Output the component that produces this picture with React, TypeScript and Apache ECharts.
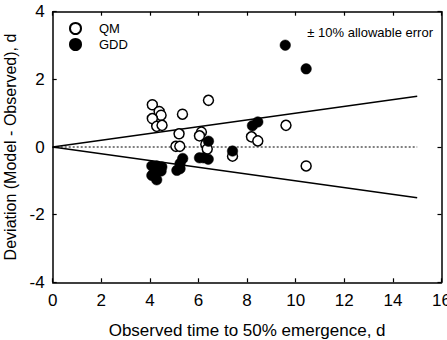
import React, { useEffect, useRef } from "react";
import * as echarts from "echarts";

// Observed time to 50% emergence (d) and model deviation (d)
const qmX = [4.1, 4.38, 4.46, 4.1, 4.28, 4.5, 5.34, 5.2, 5.07, 5.23, 6.41, 6.12, 6.04, 6.3, 6.36, 7.4, 8.18, 8.44, 9.6, 10.43];
const qmY = [1.25, 1.05, 0.94, 0.84, 0.61, 0.64, 0.97, 0.39, 0.02, 0.02, 1.38, 0.44, 0.33, 0.08, -0.06, -0.27, 0.3, 0.18, 0.64, -0.56];
const gddX = [4.08, 4.28, 4.49, 4.46, 4.08, 4.28, 4.2, 5.11, 5.24, 5.24, 5.35, 6.04, 6.21, 6.4, 6.41, 7.4, 8.22, 8.44, 9.57, 10.43];
const gddY = [-0.56, -0.56, -0.59, -0.71, -0.84, -0.97, -0.75, -0.69, -0.64, -0.49, -0.34, -0.32, -0.32, -0.36, 0.17, -0.12, 0.63, 0.74, 3.01, 2.31];

// ±10% allowable error envelope and zero line
const envX = [0, 15];
const upperY = [0, 1.5];
const lowerY = [0, -1.5];
const zeroY = [0, 0];

const FONT = "Liberation Sans, Arial, sans-serif";

export default function App() {
  const ref = useRef<HTMLDivElement>(null);
  useEffect(() => {
    if (!ref.current) return;
    const chart = echarts.init(ref.current, undefined, { renderer: "svg" });
    const zip = (xs: number[], ys: number[]) => xs.map((x, i) => [x, ys[i]]);
    const axisCommon = {
      axisLine: { show: true, onZero: false, lineStyle: { color: "#000", width: 1.5 } },
      axisTick: { show: true, inside: true, length: 4, lineStyle: { color: "#000", width: 1.2 } },
      splitLine: { show: false },
    };
    chart.setOption({
      animation: false,
      textStyle: { fontFamily: FONT },
      grid: { left: 52.7, right: 5.5, top: 11.7, bottom: 57.7, containLabel: false, outerBoundsMode: "none" },
      xAxis: [
        {
          type: "value", min: 0, max: 16, interval: 2, ...axisCommon,
          axisLabel: { color: "#000", fontSize: 17, margin: 10, fontFamily: FONT },
          name: "Observed time to 50% emergence, d", nameLocation: "middle", nameGap: 40,
          nameTextStyle: { color: "#000", fontSize: 17, fontFamily: FONT },
        },
        { type: "value", position: "top", min: 0, max: 16, interval: 2, ...axisCommon, axisLabel: { show: false } },
      ],
      yAxis: [
        {
          type: "value", min: -4, max: 4, interval: 2, ...axisCommon,
          axisLabel: { color: "#000", fontSize: 17, margin: 8, fontFamily: FONT },
          name: "Deviation (Model - Observed), d", nameLocation: "middle", nameGap: 34,
          nameTextStyle: { color: "#000", fontSize: 16, fontFamily: FONT },
        },
        { type: "value", position: "right", min: -4, max: 4, interval: 2, ...axisCommon, axisLabel: { show: false } },
      ],
      legend: {
        orient: "vertical", left: 64, top: 17, itemGap: 3, itemWidth: 11, itemHeight: 11,
        data: [
          { name: "QM", icon: "circle" },
          { name: "GDD", icon: "circle" },
        ],
        textStyle: { color: "#000", fontSize: 13, fontFamily: FONT, padding: [0, 0, 0, 13] },
      },
      graphic: [
        {
          type: "text", right: 14, top: 26,
          style: { text: "± 10% allowable error", fill: "#000", font: `13px ${FONT}` },
        },
      ],
      series: [
        {
          type: "line", data: zip(envX, upperY), symbol: "none", silent: true,
          lineStyle: { color: "#000", width: 1.5 }, z: 1,
        },
        {
          type: "line", data: zip(envX, lowerY), symbol: "none", silent: true,
          lineStyle: { color: "#000", width: 1.5 }, z: 1,
        },
        {
          type: "line", data: zip(envX, zeroY), symbol: "none", silent: true,
          lineStyle: { color: "#000", width: 1, type: [2, 2] }, z: 1,
        },
        {
          name: "QM", type: "scatter", data: zip(qmX, qmY), symbol: "circle", symbolSize: 10,
          itemStyle: { color: "#fff", borderColor: "#000", borderWidth: 1.5, opacity: 1 }, z: 3,
        },
        {
          name: "GDD", type: "scatter", data: zip(gddX, gddY), symbol: "circle", symbolSize: 10.5,
          itemStyle: { color: "#000", borderColor: "#000", borderWidth: 0.5, opacity: 1 }, z: 4,
        },
      ],
    });
    return () => chart.dispose();
  }, []);
  return <div ref={ref} style={{ width: 447, height: 340, position: "absolute", left: 0, top: 0 }} />;
}
